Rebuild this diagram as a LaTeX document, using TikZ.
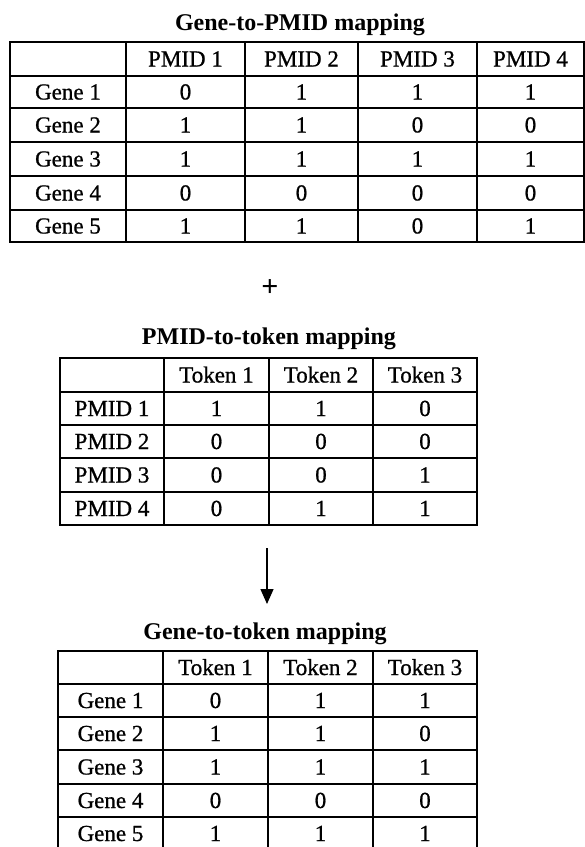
\documentclass[tikz,border=0pt]{standalone}
\usepackage{fontspec}
\setmainfont{Liberation Serif}
\newfontfamily\cellfont{Liberation Serif}[FakeBold=0.8]
\usetikzlibrary{arrows.meta}
\tikzset{
  grid/.style={line width=1.4pt, black},
  cell/.style={anchor=center, inner sep=0pt, text height=15pt, text depth=0pt, font=\cellfont\fontsize{23}{23}\selectfont},
  ttl/.style={anchor=base, inner sep=0pt, font=\fontsize{24}{24}\selectfont\bfseries},
  flow/.style={line width=1.4pt, -{Triangle[width=13pt,length=15pt]}}
}
\begin{document}
\begin{tikzpicture}[x=1pt,y=-1pt]
\useasboundingbox (0,0) rectangle (585,847);
% ---------- Table 1 ----------
\node[ttl] (title1) at (300,30) {Gene-to-PMID mapping};
\draw[grid] (10,42) rectangle (584,242);
\foreach \x in {126,245,358,477} \draw[grid] (\x,42) -- (\x,242);
\foreach \y in {76,108,142,176,210} \draw[grid] (10,\y) -- (584,\y);
\node[cell] (a-0-1) at (185.5,59) {PMID 1};
\node[cell] (a-0-2) at (301.5,59) {PMID 2};
\node[cell] (a-0-3) at (417.5,59) {PMID 3};
\node[cell] (a-0-4) at (530.5,59) {PMID 4};
\foreach \y/\g/\a/\b/\c/\d [count=\r] in {92/Gene 1/0/1/1/1,125/Gene 2/1/1/0/0,159/Gene 3/1/1/1/1,193/Gene 4/0/0/0/0,226/Gene 5/1/1/0/1}{
  \node[cell] (a-\r-0) at (68,\y) {\g};
  \node[cell] (a-\r-1) at (185.5,\y) {\a};
  \node[cell] (a-\r-2) at (301.5,\y) {\b};
  \node[cell] (a-\r-3) at (417.5,\y) {\c};
  \node[cell] (a-\r-4) at (530.5,\y) {\d};
}
% ---------- plus ----------
\node[anchor=center, inner sep=0pt, font=\fontsize{30}{30}\selectfont\bfseries] (plus) at (270,288) {+};
% ---------- Table 2 ----------
\node[ttl] (title2) at (269,344) {PMID-to-token mapping};
\draw[grid] (60,358) rectangle (477,525);
\foreach \x in {164,269,373} \draw[grid] (\x,358) -- (\x,525);
\foreach \y in {392,425,458,492} \draw[grid] (60,\y) -- (477,\y);
\node[cell] (b-0-1) at (216.5,375) {Token 1};
\node[cell] (b-0-2) at (321,375) {Token 2};
\node[cell] (b-0-3) at (425,375) {Token 3};
\foreach \y/\g/\a/\b/\c [count=\r] in {408.5/PMID 1/1/1/0,441.5/PMID 2/0/0/0,475/PMID 3/0/0/1,508.5/PMID 4/0/1/1}{
  \node[cell] (b-\r-0) at (112,\y) {\g};
  \node[cell] (b-\r-1) at (216.5,\y) {\a};
  \node[cell] (b-\r-2) at (321,\y) {\b};
  \node[cell] (b-\r-3) at (425,\y) {\c};
}
% ---------- arrow ----------
\coordinate (arrstart) at (267,548);
\coordinate (arrend) at (267,604);
\draw[flow] (arrstart) -- (arrend);
% ---------- Table 3 ----------
\node[ttl] (title3) at (265,639) {Gene-to-token mapping};
\draw[grid] (58,651) rectangle (477,850);
\foreach \x in {163,268,373} \draw[grid] (\x,651) -- (\x,850);
\foreach \y in {684,717,750,784,817} \draw[grid] (58,\y) -- (477,\y);
\node[cell] (c-0-1) at (215.5,667.5) {Token 1};
\node[cell] (c-0-2) at (320.5,667.5) {Token 2};
\node[cell] (c-0-3) at (425,667.5) {Token 3};
\foreach \y/\g/\a/\b/\c [count=\r] in {700.5/Gene 1/0/1/1,733.5/Gene 2/1/1/0,767/Gene 3/1/1/1,800.5/Gene 4/0/0/0,833.5/Gene 5/1/1/1}{
  \node[cell] (c-\r-0) at (110.5,\y) {\g};
  \node[cell] (c-\r-1) at (215.5,\y) {\a};
  \node[cell] (c-\r-2) at (320.5,\y) {\b};
  \node[cell] (c-\r-3) at (425,\y) {\c};
}
\end{tikzpicture}
\end{document}
